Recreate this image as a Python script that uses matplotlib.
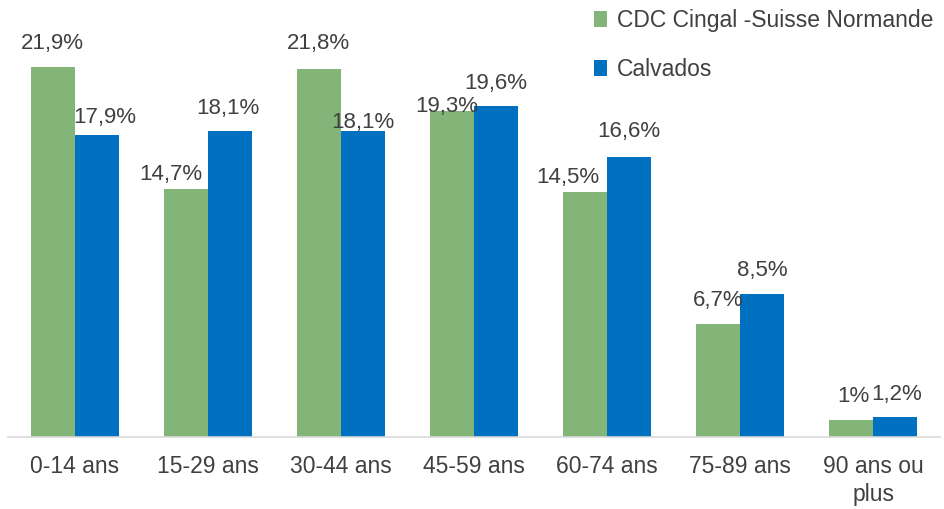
import matplotlib
matplotlib.use("Agg")
import matplotlib.pyplot as plt
import numpy as np

categories = ["0-14 ans", "15-29 ans", "30-44 ans", "45-59 ans", "60-74 ans", "75-89 ans", "90 ans ou\nplus"]
cdc = [21.9, 14.7, 21.8, 19.3, 14.5, 6.7, 1.0]
calvados = [17.9, 18.1, 18.1, 19.6, 16.6, 8.5, 1.2]
cdc_labels = ["21,9%", "14,7%", "21,8%", "19,3%", "14,5%", "6,7%", "1%"]
calvados_labels = ["17,9%", "18,1%", "18,1%", "19,6%", "16,6%", "8,5%", "1,2%"]

# label placement offsets (pixels) mimicking the reference's label layout
cdc_offsets = [(0, 24), (-15, 14), (0, 26), (-5, 5), (-17, 15), (0, 23), (2, 24)]
calvados_offsets = [(8, 17), (-2, 23), (0, 9), (0, 23), (0, 25), (0, 23), (1, 22)]

plt.rcParams['font.family'] = ['Liberation Sans', 'DejaVu Sans']
green = "#84B578"
blue = "#0070C0"
text_color = "#404040"
fs = 16

fig = plt.figure(figsize=(9.44, 5.09), dpi=100)
ax = fig.add_axes([8/944, (509-437)/509, (940-8)/944, 422/509])

x = np.arange(len(categories))
w = 0.33
b1 = ax.bar(x - w/2, cdc, w, color=green, label="CDC Cingal -Suisse Normande")
b2 = ax.bar(x + w/2, calvados, w, color=blue, label="Calvados")

for bars, labels, offs in [(b1, cdc_labels, cdc_offsets), (b2, calvados_labels, calvados_offsets)]:
    for rect, lab, (dx, dy) in zip(bars, labels, offs):
        ax.annotate(lab, (rect.get_x() + rect.get_width()/2, rect.get_height()),
                    xytext=(dx, dy), textcoords="offset pixels", ha="center", va="center",
                    fontsize=fs, color=text_color)

ax.set_xlim(-0.5, len(categories) - 0.5)
ax.set_ylim(0, 25)
ax.set_xticks(x)
ax.set_xticklabels(categories, fontsize=16.5, color=text_color, linespacing=1.25)
ax.tick_params(axis="x", length=0, pad=13)
ax.set_yticks([])
for s in ["top", "right", "left"]:
    ax.spines[s].set_visible(False)
ax.spines["bottom"].set_color("#d9d9d9")
ax.spines["bottom"].set_linewidth(1.2)

leg = fig.legend(loc="upper left", bbox_to_anchor=(594/944, 1 - 9/509), frameon=False,
                 fontsize=16.5, handlelength=0.55, handleheight=0.7, handletextpad=0.45,
                 labelspacing=1.15, labelcolor=text_color, borderpad=0, borderaxespad=0)

fig.savefig("out.png", dpi=100)
